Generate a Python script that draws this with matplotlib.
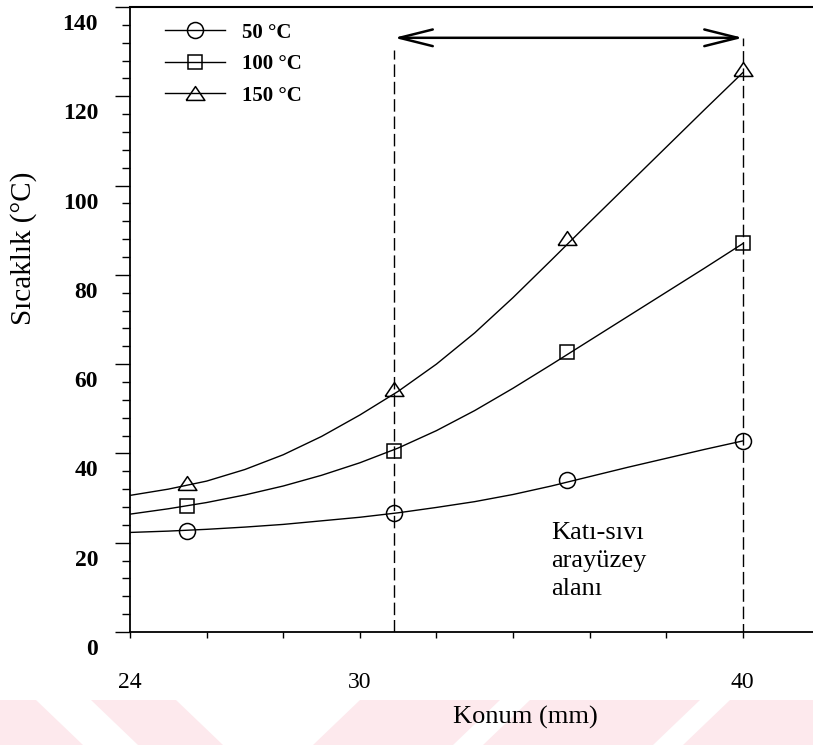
import numpy as np
import matplotlib
matplotlib.use("Agg")
import matplotlib.pyplot as plt
from matplotlib.lines import Line2D
from matplotlib.patches import Polygon
from matplotlib.ticker import MultipleLocator, FixedLocator
import matplotlib.transforms as mtransforms

plt.rcParams['font.family'] = ['Liberation Serif', 'DejaVu Serif']

# %% data
# measured points (markers)
marker_x = [25.5, 30.9, 35.4, 40.0]
t50 = [22.6, 26.7, 34.0, 42.8]
t100 = [28.2, 40.5, 62.7, 87.1]
t150 = [33.4, 54.4, 88.3, 126.1]

# fitted curves as drawn in the figure
curve_x = [24, 25, 26, 27, 28, 29, 30, 31, 32, 33, 34, 35, 36, 37, 38, 39, 40]
curve50 = [22.3, 22.6, 23.0, 23.5, 24.1, 24.9, 25.7, 26.7, 27.9, 29.2, 30.8,
           32.7, 34.8, 36.9, 38.9, 40.9, 42.8]
curve100 = [26.4, 27.6, 29.0, 30.7, 32.7, 35.1, 37.9, 41.2, 45.1, 49.6, 54.6,
            59.9, 65.3, 70.7, 76.1, 81.5, 87.0]
curve150 = [30.6, 32.0, 33.8, 36.4, 39.7, 43.8, 48.6, 53.9, 60.0, 67.0, 74.9,
            83.3, 91.8, 100.2, 108.6, 117.0, 125.3]

series_labels = ["50 °C", "100 °C", "150 °C"]

# solid-liquid interface zone
zone_x = [30.9, 40.0]
zone_top = [130.4, 133.1]
arrow_y = 133.1
zone_text = "Katı-sıvı\narayüzey\nalanı"

x_major = [24, 30, 40]
x_minor = [26, 28, 32, 34, 36, 38]

# %%
W, H = 813, 745
fig = plt.figure(figsize=(W / 100, H / 100), dpi=100)

# pale watermark band at the bottom
pink = "#fde9ed"
bands = [
    [(0, 700), (36, 700), (83, 745), (0, 745)],
    [(91, 700), (176, 700), (223, 745), (138, 745)],
    [(360, 700), (500, 700), (453, 745), (313, 745)],
    [(530, 700), (700, 700), (653, 745), (483, 745)],
    [(730, 700), (813, 700), (813, 745), (683, 745)],
]
for b in bands:
    pts = [(px / W, 1 - py / H) for px, py in b]
    fig.patches.append(Polygon(pts, closed=True, transform=fig.transFigure,
                               facecolor=pink, edgecolor="none", zorder=-5))

ax = fig.add_axes([130 / W, 1 - 632 / H, (W - 130) / W, 625 / H])
ax.patch.set_alpha(0)
ax.set_zorder(2)

lw = 1.0
ax.plot(curve_x, curve50, color="k", lw=lw)
ax.plot(curve_x, curve100, color="k", lw=lw)
ax.plot(curve_x, curve150, color="k", lw=lw)

tri = [(-1, -0.74), (1, -0.74), (0, 0.74), (-1, -0.74)]
ax.plot(marker_x, t50, ls="none", marker="o", ms=11.5, mfc="none", mec="k", mew=1.1)
ax.plot(marker_x, t100, ls="none", marker="s", ms=9.5, mfc="none", mec="k", mew=1.1)
ax.plot(marker_x, t150, ls="none", marker=tri, ms=13.5, mfc="none", mec="k", mew=1.1)

# interface zone: dashed boundaries and double arrow
ax.vlines(zone_x, [0, -1], zone_top, colors="k", linewidth=1.0,
          linestyles=[(0, (9, 3.5))])
ax.annotate("", xy=(zone_x[0], arrow_y), xytext=(zone_x[1], arrow_y),
            arrowprops=dict(arrowstyle="<->,head_length=1.2,head_width=0.3",
                            color="k", lw=1.8, mutation_scale=20,
                            shrinkA=0, shrinkB=0))
ax.text(35.0, 24.6, zone_text, ha="left", va="top", fontsize=19,
        linespacing=1.35)

# legend
handles = [
    Line2D([], [], color="k", lw=lw, marker="o", ms=11.5, mfc="none", mew=1.1),
    Line2D([], [], color="k", lw=lw, marker="s", ms=9.5, mfc="none", mew=1.1),
    Line2D([], [], color="k", lw=lw, marker=tri, ms=13.5, mfc="none", mew=1.1),
]
leg = ax.legend(handles, series_labels, loc="upper left",
                bbox_to_anchor=(0.051, 0.975), frameon=False, fontsize=15,
                handlelength=2.9, handletextpad=0.8, labelspacing=0.55,
                borderpad=0, borderaxespad=0)
for t in leg.get_texts():
    t.set_fontweight("bold")

# axes
ax.set_xlim(24, 24 + (W - 130) / 38.3)
ax.set_ylim(0, 140)
ax.spines["right"].set_visible(False)
ax.spines["top"].set_linewidth(1.5)
ax.spines["left"].set_linewidth(1.3)
ax.spines["bottom"].set_linewidth(1.3)

ax.xaxis.set_major_locator(FixedLocator(x_major))
ax.xaxis.set_minor_locator(FixedLocator(x_minor))
ax.set_xticklabels([str(v) for v in x_major])
ax.tick_params(axis="x", which="both", direction="out", length=4.5, width=1.0,
               labelsize=17, pad=24)

ax.yaxis.set_major_locator(MultipleLocator(20))
ax.yaxis.set_minor_locator(MultipleLocator(4))
ax.tick_params(axis="y", which="major", direction="out", length=11, width=1.0,
               labelsize=17, pad=12)
ax.tick_params(axis="y", which="minor", direction="out", length=6, width=1.0)
ax.tick_params(top=False, right=False, which="both")

# y tick labels sit a little below their ticks in the original
shift = mtransforms.ScaledTranslation(0, -15 / 100, fig.dpi_scale_trans)
for lab in ax.get_yticklabels():
    lab.set_transform(lab.get_transform() + shift)
    lab.set_fontweight("bold")

ax.set_xlabel("Konum (mm)", fontsize=19)
ax.xaxis.set_label_coords((525 - 130) / (W - 130), (632 - 706) / 625)
ax.set_ylabel("Sıcaklık (°C)", fontsize=21)
ax.yaxis.set_label_coords((37 - 130) / (W - 130), (632 - 248) / 625)

fig.savefig("out.png", dpi=100)
